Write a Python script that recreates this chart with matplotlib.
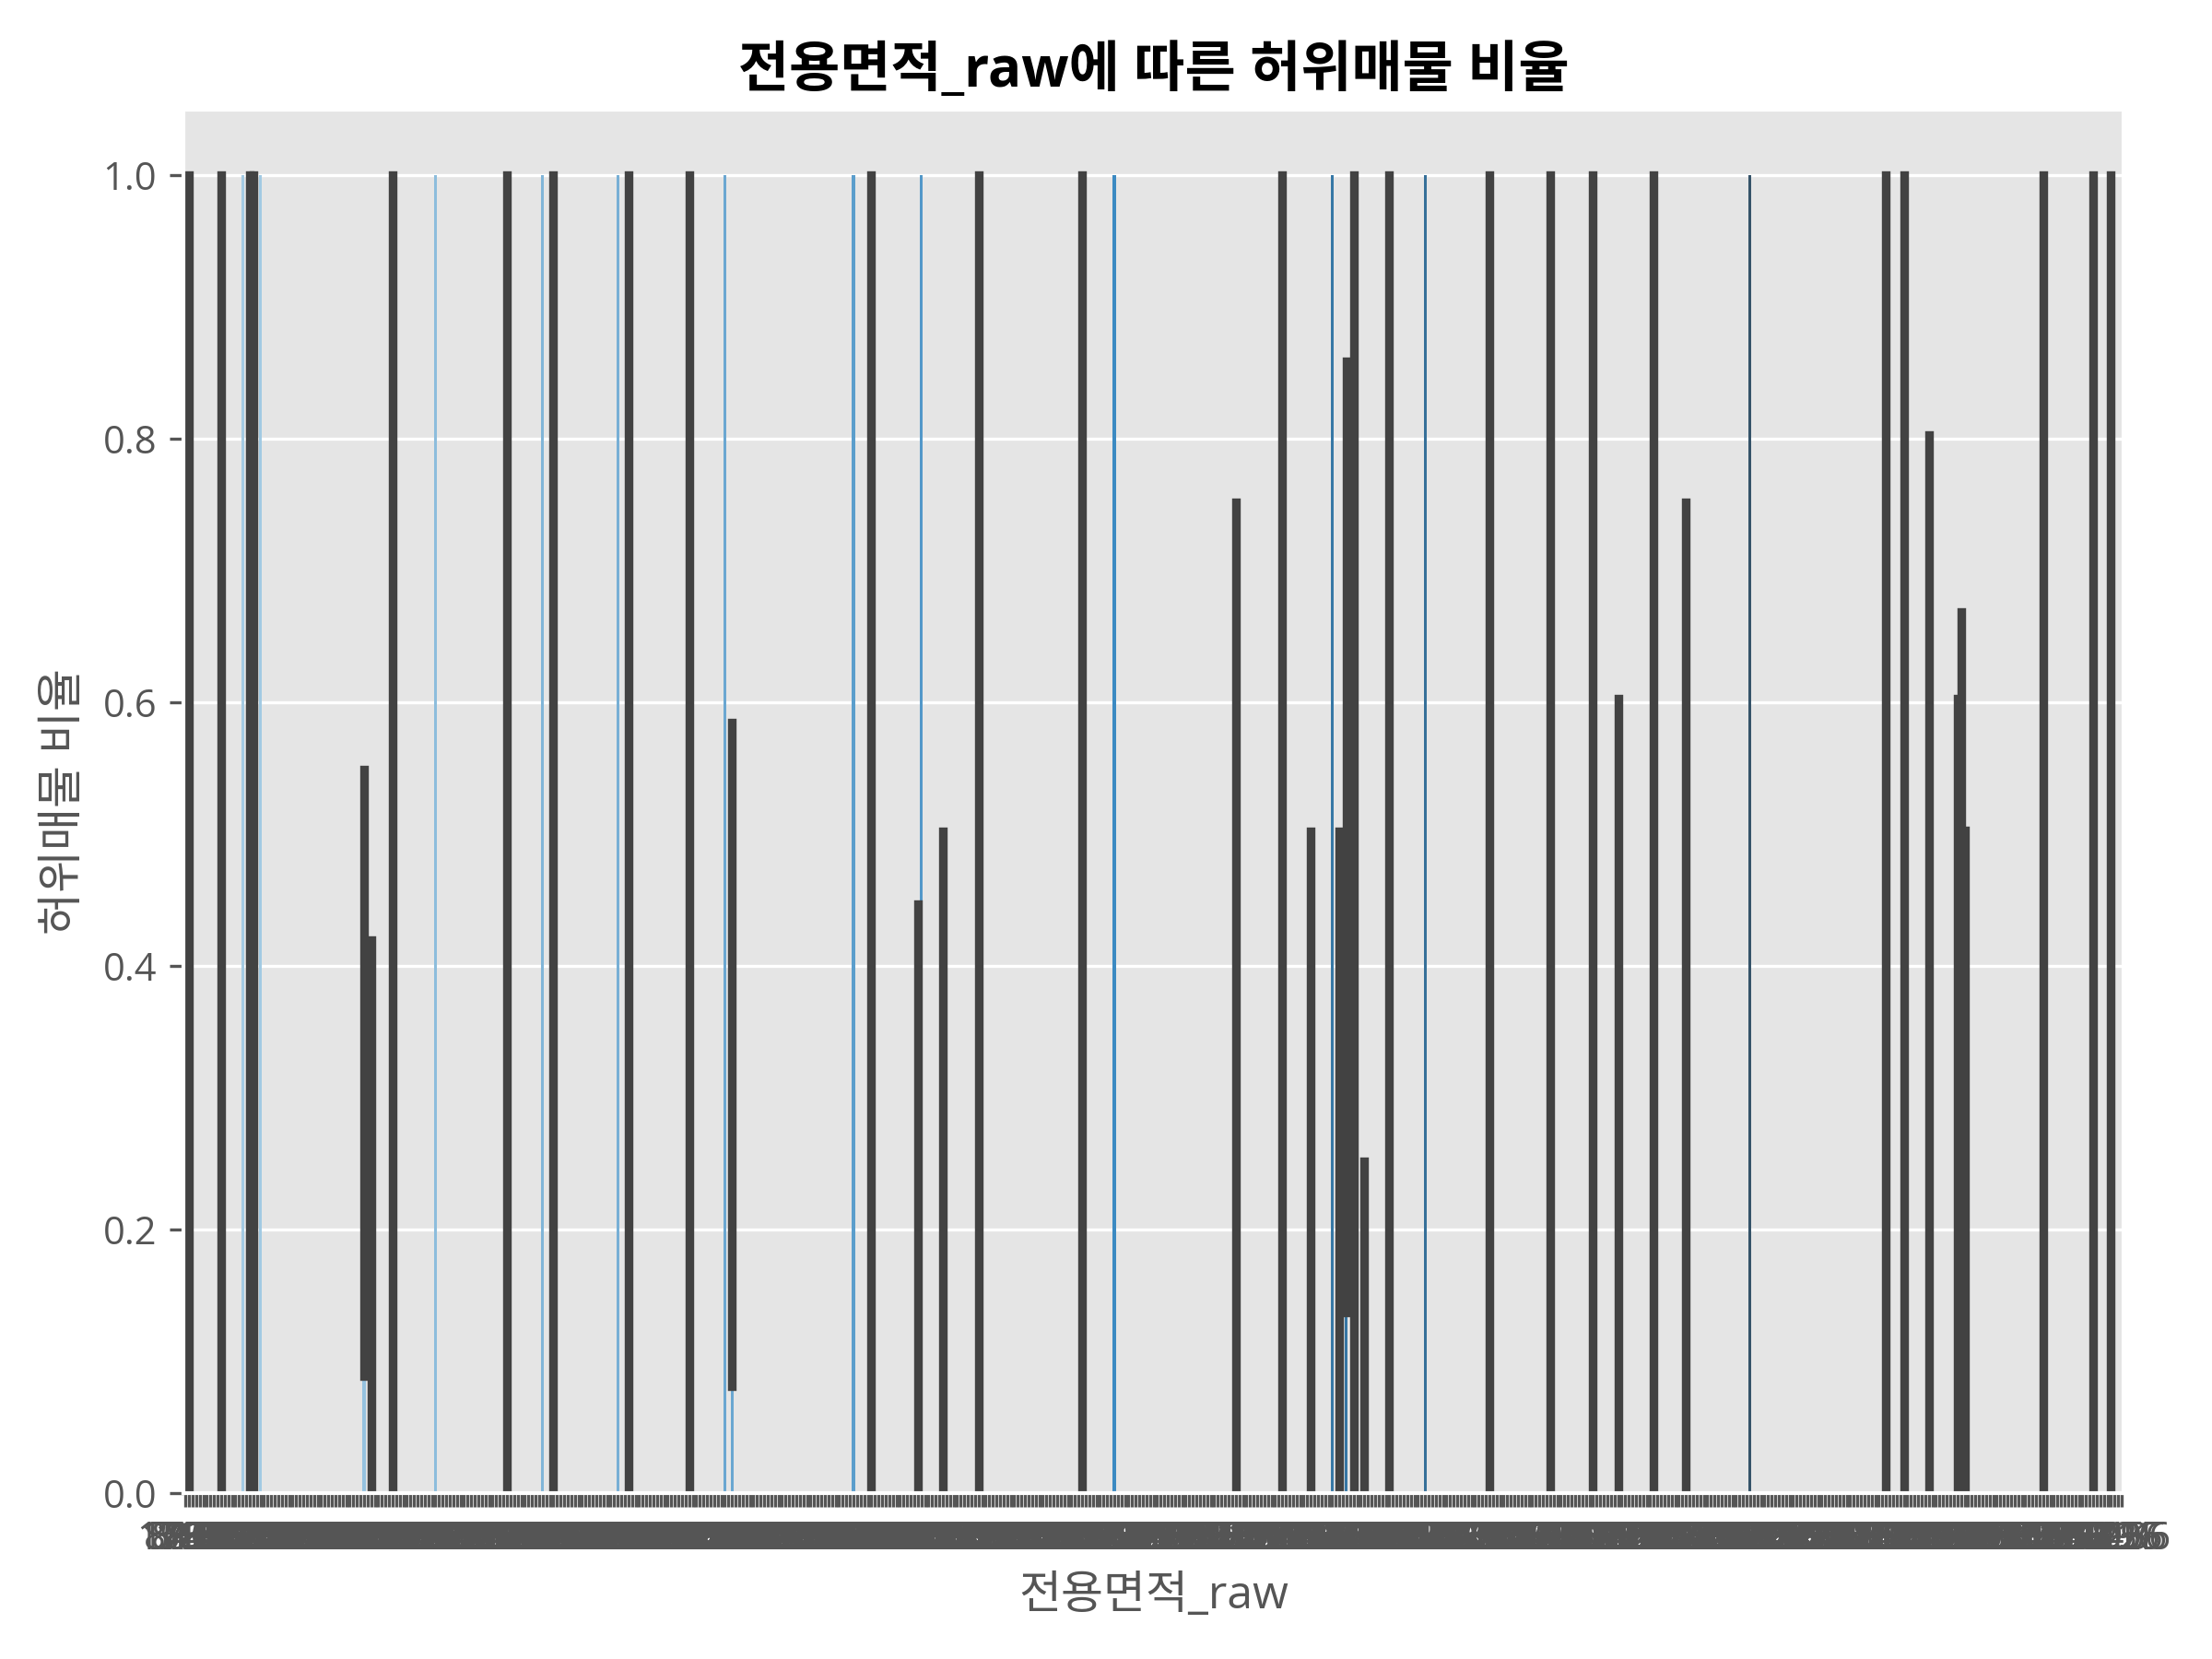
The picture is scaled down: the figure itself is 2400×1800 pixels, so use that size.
import numpy as np
import matplotlib
matplotlib.use('Agg')
import matplotlib.pyplot as plt
import seaborn as sns

plt.style.use('ggplot')
plt.rcParams['font.family'] = ['Open Sans', 'Noto Sans CJK KR', 'DejaVu Sans']
plt.rcParams['axes.unicode_minus'] = False

# 전용면적_raw 카테고리 (데이터 등장 순서)
area_labels = """
17.52 17.82 84.97 59.96 84.99 114.9 59.99 134.8 84.93 101.9 49.94 39.6 84.98 59.88 74.99 119.9 84.92 59.97 29.85 76.58
84.94 59.92 84.96 59.98 114.97 84.95 59.95 137.8 84.9 72.67 84.87 59.9 99.29 84.88 46.34 125.4 84.86 59.94 84.91 51.84
84.82 59.93 164.3 84.85 36.36 84.89 59.91 84.77 117.52 59.89 84.84 24.71 84.8 45.9 84.83 59.86 109.9 84.81 59.87 84.76
84.78 59.85 84.74 133.9 59.84 84.72 68.82 84.75 59.83 139.7 84.73 59.82 84.68 84.7 59.81 84.71 42.56 84.69 59.8 153.6
84.66 59.79 84.67 84.64 59.78 84.65 79.86 84.62 59.77 84.63 113.8 84.6 59.76 84.61 21.52 84.58 59.75 84.59 84.56 59.74
84.57 84.54 59.73 84.55 84.52 59.72 121.7 84.53 84.5 59.71 84.51 84.48 59.7 84.49 33.06 84.46 59.69 84.47 84.44 59.68
84.45 84.42 59.67 84.43 84.4 59.66 84.41 84.38 59.65 84.39 143.2 84.36 59.64 84.37 84.34 59.63 84.35 84.32 59.62 84.33
84.3 59.61 84.31 84.28 59.6 84.29 84.26 59.59 84.27 84.24 59.58 84.25 84.22 59.57 84.23 84.2 59.56 84.21 84.18 59.55
84.19 84.16 59.54 84.17 84.14 59.53 84.15 84.12 59.52 84.13 84.1 59.51 84.11 84.08 59.5 84.09 84.06 59.49 84.07 84.04
59.48 84.05 84.02 59.47 84.03 84.0 59.46 84.01 83.98 59.45 83.99 83.96 59.44 83.97 83.94 59.43 83.95 83.92 59.42 83.93
83.9 59.41 83.91 83.88 59.4 83.89 83.86 59.39 83.87 83.84 59.38 83.85 83.82 59.37 83.83 83.8 59.36 83.81 83.78 59.35
83.79 83.76 59.34 83.77 83.74 59.33 83.75 83.72 59.32 83.73 83.7 59.31 83.71 83.68 59.3 83.69 83.66 59.29 83.67 83.64
59.28 83.65 83.62 59.27 83.63 83.6 59.26 83.61 83.58 59.25 83.59 83.56 59.24 83.57 83.54 59.23 83.55 83.52 59.22 83.53
101.2 49.75 39.95 114.6 26.4 135.1 72.9 44.87 155.4 98.6 64.52 37.2 108.3 54.96 127.6 31.8 92.4 66.7 145.9 57.3
118.4 43.2 77.6 162.8 35.5 89.3 52.7 131.2 28.9 104.5 69.4 47.8 149.3 81.2 38.7 123.5 61.3 95.7 22.4 112.3
73.8 56.4 141.6 33.9 86.5 50.2 128.9 41.3 97.8 63.1 158.2 30.6 106.7 75.4 48.3 136.7 58.9 91.6 27.3 116.1
70.3 45.6 151.8 38.1 93.2 62.4 125.8 34.7 103.6 78.5 53.1 142.3 25.6 110.9 67.2 46.9 132.5 87.9 40.4 169.4
57.9 99.8 29.4 120.6 71.6 51.3 147.1 36.8 94.5 65.7 126.3 43.9 82.7 55.6 138.4 32.2 107.9 74.1 48.9 159.6
60.8 88.2 23.8 115.4 68.5 42.1 133.6 79.3 52.4 102.7 37.9 144.8 63.9 96.1 30.2 121.9 57.1 85.4 46.2 174.5
66.1 39.3 111.6 76.2 54.3 139.2 28.3 100.4 62.9 90.8 44.5 130.4 35.1 117.8 71.1 50.7 152.9 81.9 41.7 105.3
58.6 124.1 33.4 94.9 69.9 47.3 146.2 26.9 109.1 64.8 87.1 39.8 129.7 73.2 53.6 161.4 31.3 97.2 60.2 118.9
45.1 80.6 137.3 36.3 103.1 67.8 55.1 148.6 42.8 91.1 24.9 126.9 75.9 49.2 113.2 61.7 140.8 34.2 86.9 57.6
166.3 38.4 98.3 70.8 52.9 131.9 29.9 106.1 65.3 83.5 43.6 122.7 77.3 47.6 156.7 32.8 95.3 61.9 115.9 40.9
74.6 54.7 134.2 27.8 101.6 68.1 88.7 46.6 128.2 35.8 110.2 72.3 51.7 150.3 39.1 92.9 63.6 119.3 30.9 82.1
58.2 143.7 44.2 104.8 66.4 37.6 127.1 79.9 53.8 163.9 25.3 96.8 69.1 48.6 135.8 41.1 89.9 62.2 112.8 33.7
76.9 56.8 148.1 31.1 99.1 64.1 85.9 45.3 123.2 38.9 108.7 71.9 50.9 157.1 36.1 93.7 60.6 117.2 28.6 81.4
55.3 139.9 43.4 102.3 67.5 40.1 129.3 78.2 52.2 171.2 26.1 94.2 65.9 47.1 132.9 34.9 90.1 59.2 114.1 49.36
73.55 58.56 74.36
""".split()
N = len(area_labels)
assert N == 543, N

# 허위매물 비율이 0이 아닌 카테고리 (위치, 평균, 신뢰구간 하한/상한; n=1이면 구간 없음)
nz_idx = [1, 10, 16, 18, 19, 21, 50, 52, 58, 70, 90, 100, 103, 121, 124, 141,
          151, 153, 187, 192, 205, 206, 212, 222, 251, 260, 294, 307, 315, 321,
          323, 325, 327, 330, 337, 347, 365, 382, 394, 401, 411, 420, 438, 476,
          481, 488, 496, 497, 498, 520, 534, 539]
nz_mean = [0.5, 0.5, 1.0, 0.5, 0.5, 1.0, 0.3, 0.17, 0.5, 1.0, 0.5, 1.0, 0.5, 1.0, 0.5, 0.5,
           1.0, 0.33, 1.0, 0.5, 0.2, 1.0, 0.25, 0.5, 0.5, 1.0, 0.38, 0.5, 0.25, 1.0,
           0.25, 0.5, 0.5, 0.1, 0.5, 1.0, 0.5, 0.5, 0.5, 0.3, 0.5, 0.38, 1.0, 0.5,
           0.5, 0.4, 0.3, 0.33, 0.25, 0.5, 0.5, 0.5]
nz = np.nan
ci_low = [0, 0, nz, 0, 0, nz, 0.089, 0, 0, nz, 0, nz, 0, nz, 0, 0,
          nz, 0.081, nz, 0, 0, nz, 0, 0, 0, nz, 0, 0, 0, nz,
          0, 0.137, 0, 0, 0, nz, 0, 0, 0, 0, 0, 0, nz, 0,
          0, 0, 0, 0, 0, 0, 0, 0]
ci_high = [1, 1, nz, 1, 1, nz, 0.549, 0.42, 1, nz, 1, nz, 1, nz, 1, 1,
           nz, 0.585, nz, 1, 0.447, nz, 0.502, 1, 1, nz, 0.752, 1, 0.502, nz,
           0.502, 0.859, 1, 0.252, 1, nz, 1, 1, 1, 0.603, 1, 0.752, nz, 1,
           1, 0.803, 0.603, 0.669, 0.503, 1, 1, 1]

ratio = np.zeros(N)
ratio[nz_idx] = nz_mean
colors = sns.color_palette('Blues_d', N)

fig, ax = plt.subplots(figsize=(8, 6), dpi=300)
x = np.arange(N)
ax.bar(x, ratio, width=0.8, color=colors)
for i, lo, hi in zip(nz_idx, ci_low, ci_high):
    if np.isnan(lo):
        continue
    ax.plot([i, i], [lo, hi], color='.26', linewidth=2.25)

ax.xaxis.grid(False)
ax.set_xlim(-0.5, N - 0.5)
ax.set_ylim(0, 1.05)
ax.set_xticks(x)
ax.set_xticklabels(area_labels)
ax.set_title('전용면적_raw에 따른 허위매물 비율', fontweight='bold')
ax.set_xlabel('전용면적_raw')
ax.set_ylabel('허위매물 비율')
plt.subplots_adjust(left=0.083, right=0.96, bottom=0.1, top=0.934)
plt.savefig('out.png')
